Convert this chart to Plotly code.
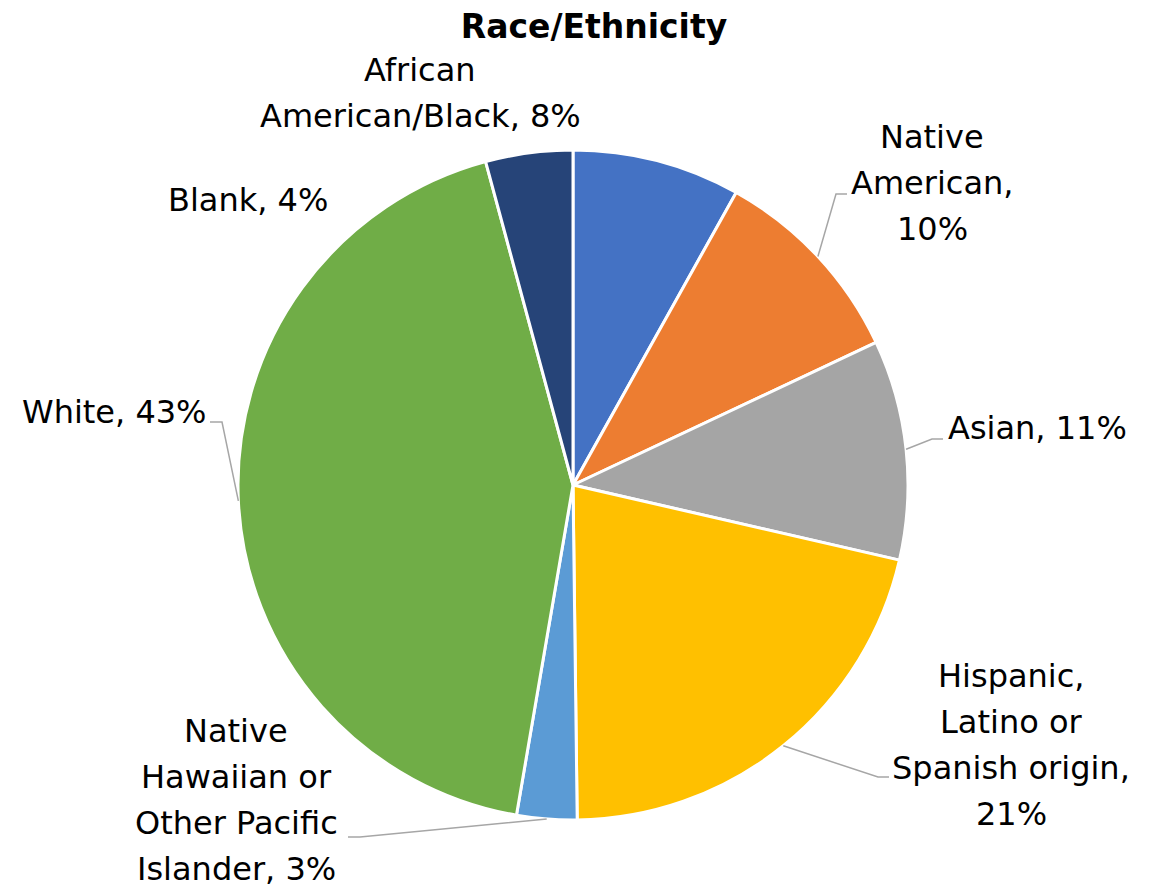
import math
import plotly.graph_objects as go

# data (share of respondents, %)
labels = ["African American/Black", "Native American", "Asian",
          "Hispanic, Latino or Spanish origin",
          "Native Hawaiian or Other Pacific Islander", "White", "Blank"]
values = [8.1, 9.9, 10.6, 21.2, 2.9, 43.1, 4.2]
# how each label wraps, "{p}" is replaced by the percentage
label_lines = [["African", "American/Black, {p}"],
               ["Native", "American,", "{p}"],
               ["Asian, {p}"],
               ["Hispanic,", "Latino or", "Spanish origin,", "{p}"],
               ["Native", "Hawaiian or", "Other Pacific", "Islander, {p}"],
               ["White, {p}"],
               ["Blank, {p}"]]
colors = ["#4472C4", "#ED7D31", "#A5A5A5", "#FFC000", "#5B9BD5", "#70AD47", "#264478"]

# layout: canvas / margins
W, H = 1154, 888
ML, MR, MT, MB = 0, 8, 150, 68
PW, PH = W - ML - MR, H - MT - MB
R = min(PW, PH) / 2
CX, CY = ML + PW / 2, MT + PH / 2
LINE_H = 46
FONT = "DejaVu Sans, Arial, sans-serif"

# label centres in pixels (Excel placed them by hand)
label_pos = [(420, 93), (932, 183), (1037, 428), (1011, 745),
             (236, 800), (114, 412), (248, 200)]
# leader line elbow and end points (None = no leader)
leaders = [None, ((836, 194), (847, 194)), ((932, 439), (943, 439)),
           ((878, 777), (889, 777)), ((360, 837), (348, 837)),
           ((222, 422), (210, 422)), None]


def px2paper(x, y):
    return (x - ML) / PW, (H - MB - y) / PH


total = sum(values)
fig = go.Figure(go.Pie(labels=labels, values=values, sort=False,
                       direction="clockwise", rotation=0,
                       marker=dict(colors=colors, line=dict(color="white", width=3)),
                       textinfo="none", hoverinfo="label+percent", showlegend=False))

annotations = []
shapes = []
cum = 0
for i, v in enumerate(values):
    pct = f"{round(v / total * 100)}%"
    lines = label_lines[i]
    n = len(lines)
    for k, line in enumerate(lines):
        lx, ly = px2paper(label_pos[i][0], label_pos[i][1] + (k - (n - 1) / 2) * LINE_H)
        annotations.append(dict(x=lx, y=ly, xref="paper", yref="paper",
                                text=line.replace("{p}", pct), showarrow=False,
                                xanchor="center", yanchor="middle",
                                font=dict(size=32, color="black")))
    mid = (cum + v / 2) / total * 2 * math.pi
    cum += v
    if leaders[i] is None:
        continue
    sx, sy = CX + R * math.sin(mid), CY - R * math.cos(mid)
    pts = [px2paper(*p) for p in [(sx, sy), leaders[i][0], leaders[i][1]]]
    path = "M {} {} L {} {} L {} {}".format(*[c for p in pts for c in p])
    shapes.append(dict(type="path", path=path, xref="paper", yref="paper",
                       line=dict(color="#A6A6A6", width=1.5)))

fig.update_layout(
    width=W, height=H,
    margin=dict(l=ML, r=MR, t=MT, b=MB),
    paper_bgcolor="white", plot_bgcolor="white",
    font=dict(family=FONT, color="black"),
    title=dict(text="<b>Race/Ethnicity</b>", x=594 / W, xanchor="center",
               y=1 - 26 / H, yanchor="middle", yref="container",
               font=dict(size=33, color="black")),
    annotations=annotations, shapes=shapes,
)
fig.write_html("out.html", config={"displayModeBar": False},
               post_script="document.body.style.margin='0';")
